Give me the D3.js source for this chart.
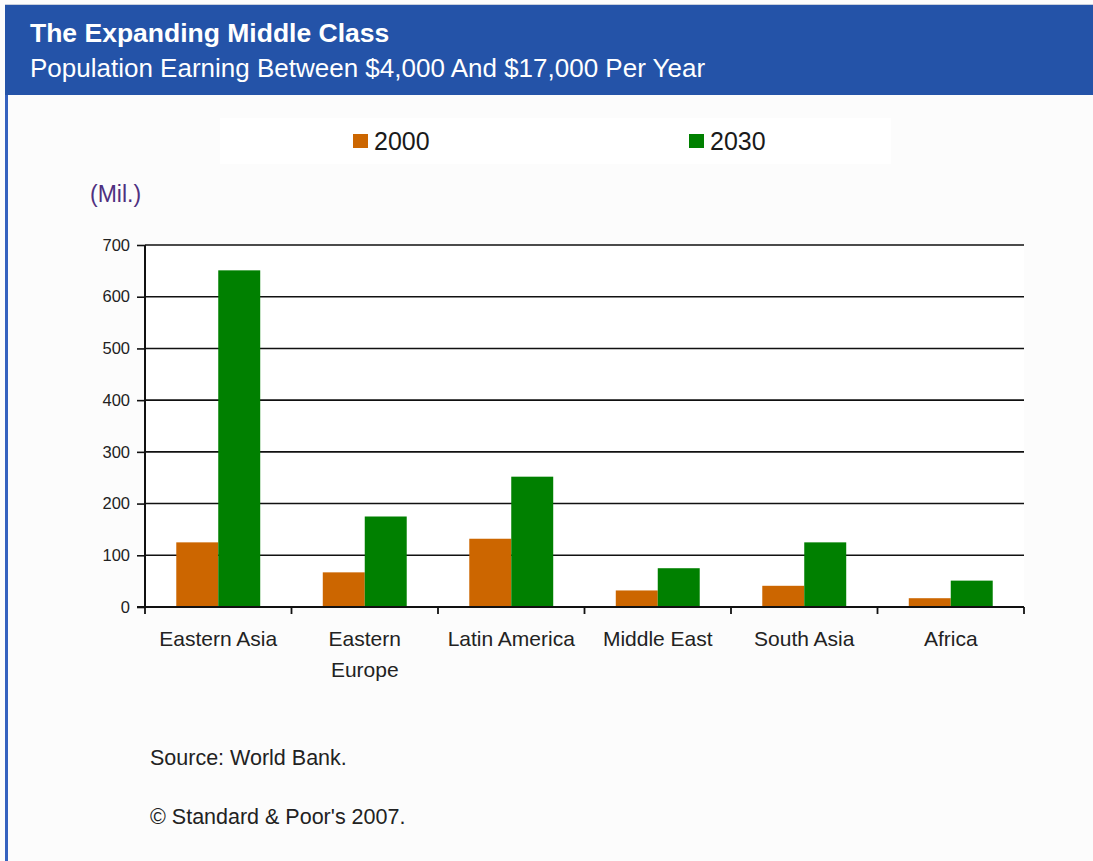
<!DOCTYPE html>
<html>
<head>
<meta charset="utf-8">
<script src="https://cdn.jsdelivr.net/npm/d3@7"></script>
<style>
  html, body { margin: 0; padding: 0; background: #fcfcfc; }
  svg { display: block; font-family: "Liberation Sans", Arial, sans-serif; }
</style>
</head>
<body>
<script>
// Middle-class population by region, millions
const regions = [["Eastern Asia"], ["Eastern", "Europe"], ["Latin America"], ["Middle East"], ["South Asia"], ["Africa"]];
const years = ["2000", "2030"];
const values2000 = [125, 67, 132, 32, 41, 17];
const values2030 = [651, 175, 252, 75, 125, 51];
const yTicks = [0, 100, 200, 300, 400, 500, 600, 700];
const colors = ["#cc6600", "#008000"];

const W = 1093, H = 861;
const svg = d3.select("body").append("svg").attr("width", W).attr("height", H);

// Frame: page background, left rule and header band
svg.append("rect").attr("x", 0).attr("y", 0).attr("width", W).attr("height", H).attr("fill", "#fcfcfc");
svg.append("rect").attr("x", 5).attr("y", 4).attr("width", W - 5).attr("height", 1).attr("fill", "#c8cfdc");
svg.append("rect").attr("x", 5).attr("y", 5).attr("width", 3).attr("height", H - 5).attr("fill", "#3562bf");
svg.append("rect").attr("x", 5).attr("y", 5).attr("width", W - 5).attr("height", 90).attr("fill", "#2453a8");

svg.append("text").attr("x", 30).attr("y", 42)
  .attr("fill", "#fff").attr("font-size", 26.5).attr("font-weight", "bold")
  .text("The Expanding Middle Class");
svg.append("text").attr("x", 30).attr("y", 77)
  .attr("fill", "#fff").attr("font-size", 26)
  .text("Population Earning Between $4,000 And $17,000 Per Year");

// Legend
svg.append("rect").attr("x", 220).attr("y", 118).attr("width", 671).attr("height", 46).attr("fill", "#ffffff");
const legendX = [353, 689];
years.forEach((yr, i) => {
  const g = svg.append("g").attr("transform", `translate(${legendX[i]},134)`);
  g.append("rect").attr("width", 15).attr("height", 14).attr("fill", colors[i]);
  g.append("text").attr("x", 21).attr("y", 16).attr("font-size", 25).attr("fill", "#1a1a1a").text(yr);
});

// Plot area
const plotL = 145, plotR = 1024, plotT = 245, plotB = 607;
svg.append("rect").attr("x", plotL).attr("y", plotT).attr("width", plotR - plotL).attr("height", plotB - plotT).attr("fill", "#ffffff");

const y = d3.scaleLinear().domain([0, 700]).range([plotB, plotT]);
const x0 = d3.scaleBand().domain(d3.range(regions.length)).range([plotL, plotR])
  .paddingInner(0.427).paddingOuter(0.2135);
const x1 = d3.scaleBand().domain(years).range([0, x0.bandwidth()]);

svg.append("text").attr("x", 90).attr("y", 202).attr("font-size", 23).attr("fill", "#4f3080").text("(Mil.)");

// Gridlines with left tick marks
const yAxis = svg.append("g").attr("transform", `translate(${plotL},0)`)
  .call(d3.axisLeft(y).tickValues(yTicks).tickSize(8).tickPadding(7).tickFormat(d3.format("d")));
yAxis.select(".domain").remove();
yAxis.selectAll(".tick line").attr("stroke", "#111").attr("stroke-width", 1.6);
yAxis.selectAll(".tick text").attr("font-size", 16.5).attr("fill", "#222").attr("font-family", "Liberation Sans, Arial, sans-serif");

svg.append("g").selectAll("line").data(yTicks.filter(d => d > 0)).join("line")
  .attr("x1", plotL).attr("x2", plotR)
  .attr("y1", d => y(d)).attr("y2", d => y(d))
  .attr("stroke", "#111").attr("stroke-width", 1.6);

// Bars
const series = [values2000, values2030];
const groups = svg.append("g").selectAll("g").data(regions.map((r, i) => i)).join("g")
  .attr("transform", i => `translate(${x0(i)},0)`);
groups.selectAll("rect").data(i => years.map((yr, k) => ({ yr, k, v: series[k][i] }))).join("rect")
  .attr("x", d => x1(d.yr)).attr("width", x1.bandwidth())
  .attr("y", d => y(d.v)).attr("height", d => y(0) - y(d.v))
  .attr("fill", d => colors[d.k]);

// Axis lines
svg.append("line").attr("x1", plotL).attr("x2", plotL).attr("y1", plotT).attr("y2", plotB + 1)
  .attr("stroke", "#111").attr("stroke-width", 2);
svg.append("line").attr("x1", plotL - 8).attr("x2", plotR).attr("y1", plotB).attr("y2", plotB)
  .attr("stroke", "#111").attr("stroke-width", 1.8);

// Category boundary ticks
const step = x0.step();
const bounds = d3.range(regions.length + 1).map(i => plotL + i * step);
svg.append("g").selectAll("line").data(bounds).join("line")
  .attr("x1", d => d).attr("x2", d => d).attr("y1", plotB).attr("y2", plotB + 7)
  .attr("stroke", "#111").attr("stroke-width", 1.8);

// Category labels
const labels = svg.append("g").selectAll("text").data(regions).join("text")
  .attr("x", (r, i) => x0(i) + x0.bandwidth() / 2)
  .attr("y", 646).attr("text-anchor", "middle").attr("font-size", 21).attr("fill", "#222");
labels.selectAll("tspan").data(r => r).join("tspan")
  .attr("x", function () { return d3.select(this.parentNode).attr("x"); })
  .attr("dy", (d, j) => j === 0 ? 0 : 31).text(d => d);

// Notes
svg.append("text").attr("x", 150).attr("y", 765).attr("font-size", 21.5).attr("fill", "#222").text("Source: World Bank.");
svg.append("text").attr("x", 150).attr("y", 824).attr("font-size", 21.5).attr("fill", "#222").text("© Standard & Poor's 2007.");
</script>
</body>
</html>
